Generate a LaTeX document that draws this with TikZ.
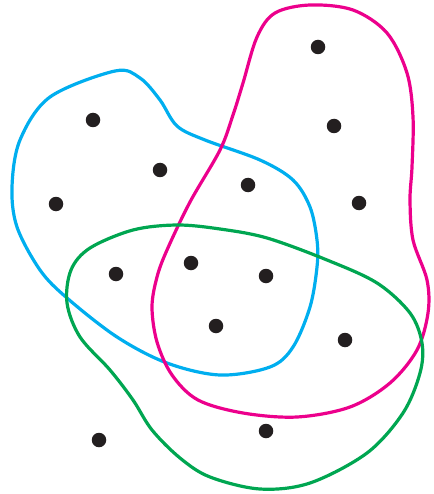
\documentclass[tikz,border=0pt]{standalone}
\definecolor{setblue}{RGB}{0,174,239}
\definecolor{setmag}{RGB}{236,0,140}
\definecolor{setgreen}{RGB}{0,166,81}
\definecolor{dotcol}{RGB}{35,31,32}
\tikzset{
  elem/.style={circle,fill=dotcol,inner sep=0pt,minimum size=14.5pt},
  setline/.style={line width=3.2pt,line join=round}
}
\begin{document}
\begin{tikzpicture}[x=1pt,y=-1pt]
\useasboundingbox (0,0) rectangle (433,494);
% blue set
\draw[setline,setblue] plot[smooth cycle,tension=0.55] coordinates {
 (115,71) (140,78) (160,100) (177,126) (205,140) (260,160) (293,180) (310,207)
 (317,240) (317,267) (310,307) (293,347) (270,367) (220,375) (167,363) (117,337)
 (67,298) (40,270) (17,227) (12,187) (20,140) (50,97)};
% magenta set
\draw[setline,setmag] plot[smooth cycle,tension=0.55] coordinates {
 (310,5) (353,10) (387,33) (407,73) (413,117) (412,167) (410,200) (413,240)
 (427,280) (428,313) (417,350) (390,383) (350,407) (297,417) (243,413) (198,400)
 (172,375) (157,342) (152,307) (157,277) (167,250) (190,202) (220,150)
 (233,115) (243,83) (257,37) (275,13)};
% green set
\draw[setline,setgreen] plot[smooth cycle,tension=0.55] coordinates {
 (90,248) (133,230) (177,225) (220,229) (267,238) (327,260) (377,283)
 (410,313) (422,343) (420,373) (403,413) (367,453) (310,483) (260,489) (210,477)
 (180,458) (152,430) (133,400) (110,370) (80,337) (67,303) (71,270)};
% elements
\node[elem] (d1) at (318,47) {};
\node[elem] (d2) at (93,120) {};
\node[elem] (d3) at (334,126) {};
\node[elem] (d4) at (160,170) {};
\node[elem] (d5) at (248,185) {};
\node[elem] (d6) at (359,203) {};
\node[elem] (d7) at (56,204) {};
\node[elem] (d8) at (116,274) {};
\node[elem] (d9) at (191,263) {};
\node[elem] (d10) at (266,276) {};
\node[elem] (d11) at (216,326) {};
\node[elem] (d12) at (345,340) {};
\node[elem] (d13) at (99,440) {};
\node[elem] (d14) at (266,431) {};
\end{tikzpicture}
\end{document}
